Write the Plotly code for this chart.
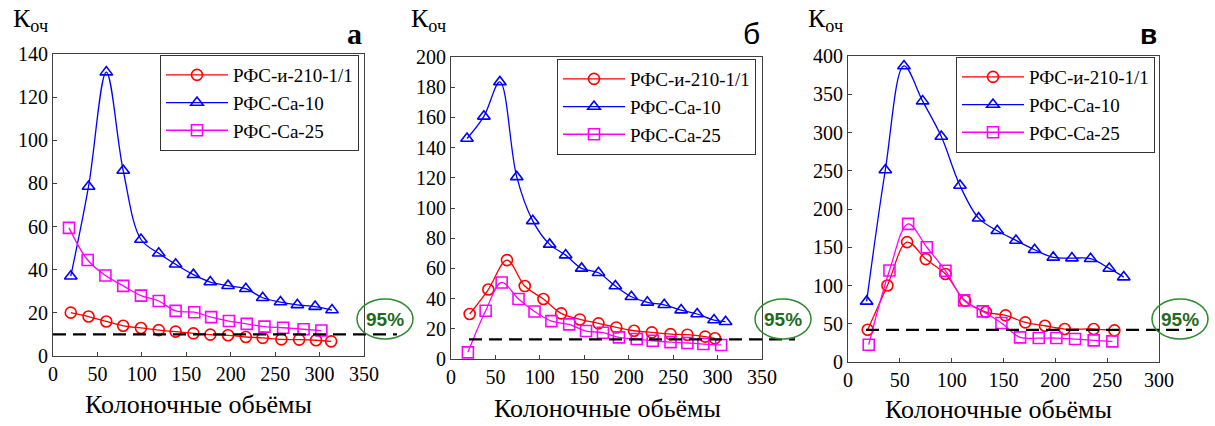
import plotly.graph_objects as go

W, H = 1215, 426

# ---- data ----
series_names = ["РФС-и-210-1/1", "РФС-Са-10", "РФС-Са-25"]
panel_letters = ["а", "б", "в"]
x_title = "Колоночные обьёмы"
threshold_label = "95%"
thresholds = [10, 13, 42]

xa_red = [20, 40, 60, 79, 99, 119, 138, 158, 177, 197, 217, 236, 257, 277, 296, 313]
ya_red = [20.1, 18.3, 16.0, 14.0, 13.0, 12.0, 11.3, 10.5, 9.9, 9.6, 8.8, 8.4, 7.7, 7.6, 7.3, 6.8]
xa_blue = [20, 40, 60, 79, 99, 119, 138, 158, 177, 197, 217, 236, 256, 275, 295, 314]
ya_blue = [37, 78.6, 131.6, 86, 54, 47.6, 42.5, 37.7, 34.3, 32.6, 31.2, 27, 25, 23.7, 22.9, 21.3]
xa_mag = [18, 39, 59, 79, 99, 119, 138, 159, 178, 198, 218, 238, 259, 282, 302]
ya_mag = [59.4, 44.5, 37.3, 32.5, 28, 25.5, 20.9, 20.3, 18, 16.2, 14.9, 13.6, 13.1, 12.4, 11.8]

xb_red = [21, 42, 63, 83, 104, 124, 145, 166, 186, 206, 226, 247, 266, 286, 297]
yb_red = [29.8, 46, 65.5, 48.3, 39.7, 30.2, 26.2, 23.6, 20.9, 18.7, 17.6, 16.5, 16.1, 14.8, 13.7]
xb_blue = [18, 37, 55, 74, 92, 111, 129, 147, 166, 185, 203, 221, 240, 259, 277, 296, 309]
yb_blue = [146, 160.7, 183.5, 120.6, 91.5, 75.9, 68.8, 60, 57.1, 48.3, 41.2, 37.5, 35.9, 32.4, 29.8, 25.8, 24.7]
xb_mag = [19, 39, 57, 76, 94, 113, 133, 152, 171, 189, 209, 227, 247, 266, 284, 304]
yb_mag = [4.4, 32, 50.7, 39.7, 31.5, 25.1, 22.9, 18.5, 17.4, 14.3, 13.2, 12.1, 11.2, 10.6, 9.9, 9.3]

xc_red = [19, 38, 57, 75, 94, 113, 133, 152, 171, 190, 209, 237, 257]
yc_red = [42.2, 100, 156.7, 134.5, 115, 80, 65.3, 61, 51.8, 47.4, 43.1, 43.1, 41.4]
xc_blue = [18, 36, 54, 72, 90, 108, 126, 144, 162, 180, 198, 216, 234, 252, 266]
yc_blue = [79.2, 251, 387, 341, 294.7, 230.7, 188, 171.5, 158.9, 146.7, 136.7, 135.8, 135, 122.3, 111]
xc_mag = [20, 40, 58, 76, 94, 112, 130, 148, 166, 184, 201, 219, 237, 255]
yc_mag = [22.6, 119.7, 180.6, 150, 119.3, 80.5, 66.2, 51, 32.2, 31.3, 31.3, 30, 28.3, 27]

x_ranges = [[0, 350], [0, 350], [0, 300]]
y_ranges = [[0, 140], [0, 200], [0, 400]]
y_dticks = [20, 20, 50]

panels = [
    [(xa_red, ya_red), (xa_blue, ya_blue), (xa_mag, ya_mag)],
    [(xb_red, yb_red), (xb_blue, yb_blue), (xb_mag, yb_mag)],
    [(xc_red, yc_red), (xc_blue, yc_blue), (xc_mag, yc_mag)],
]

# ---- styling ----
colors = ["#ff0000", "#0000ff", "#ff00ff"]
symbols = ["circle-open", "triangle-up-open", "square-open"]
serif = "Liberation Serif"
sans = "Liberation Sans"

# plot-area boxes in pixels: (left, right, top, bottom)
boxes = [(53, 364, 54, 356), (451, 762, 57, 359), (848, 1159, 56, 362)]
legend_pos = [(160, 55), (557, 59), (956, 57)]
title_pos = [(198, 404), (607, 408), (998, 409)]


def px(x):
    return x / W


def py(y):
    return 1 - y / H


fig = go.Figure()
layout = dict(
    template="none",
    width=W, height=H, margin=dict(l=0, r=0, t=0, b=0, pad=0, autoexpand=False),
    paper_bgcolor="white", plot_bgcolor="white", showlegend=True,
    font=dict(family=serif, color="black"),
    annotations=[], shapes=[],
)

for i, series in enumerate(panels):
    sfx = "" if i == 0 else str(i + 1)
    xa, ya = "x" + sfx, "y" + sfx
    lg = "legend" + sfx
    for j, (xs, ys) in enumerate(series):
        fig.add_trace(go.Scatter(
            x=xs, y=ys, name=series_names[j], mode="lines+markers",
            xaxis=xa, yaxis=ya, legend=lg,
            line=dict(color=colors[j], width=1.3, shape="spline", smoothing=1.0),
            marker=dict(symbol=symbols[j], size=11, color=colors[j],
                        line=dict(width=1.6, color=colors[j])),
        ))
    l, r, t, b = boxes[i]
    axis_common = dict(
        showgrid=False, zeroline=False, showline=True, mirror=True,
        automargin=False,
        linecolor="#404040", linewidth=1, ticks="inside", ticklen=4,
        tickcolor="#404040", tickfont=dict(family=serif, size=20, color="black"),
    )
    layout["xaxis" + sfx] = dict(
        domain=[px(l), px(r)], anchor=ya, range=x_ranges[i], dtick=50,
        **axis_common,
    )
    layout["yaxis" + sfx] = dict(
        domain=[py(b), py(t)], anchor=xa, range=y_ranges[i], dtick=y_dticks[i],
        **axis_common,
    )
    lx, ly = legend_pos[i]
    layout[lg] = dict(
        x=px(lx), y=py(ly), xanchor="left", yanchor="top",
        bgcolor="white", bordercolor="#333333", borderwidth=1,
        font=dict(family=serif, size=19, color="black"),
        itemwidth=62, tracegroupgap=0,
    )

    # 95% threshold line
    x0 = l if i == 0 else l + 18
    layout["shapes"].append(dict(
        type="line", xref="paper", yref=ya, x0=px(x0), x1=px(r + 33),
        y0=thresholds[i], y1=thresholds[i],
        line=dict(color="black", width=2.2, dash="13px,7px"),
    ))
    # green ellipse with label
    cx, cy = r + 21, 319
    layout["shapes"].append(dict(
        type="circle", xref="paper", yref="paper",
        x0=px(cx - 28), x1=px(cx + 28), y0=py(cy + 20), y1=py(cy - 20),
        line=dict(color="#2e8b2e", width=1.5),
    ))
    layout["annotations"].append(dict(
        text="<b>%s</b>" % threshold_label, xref="paper", yref="paper",
        x=px(cx), y=py(cy), showarrow=False, xanchor="center", yanchor="middle",
        font=dict(family=sans, size=19, color="#1e6b1e"),
    ))
    # y-axis label
    layout["annotations"].append(dict(
        text="К<sub>оч</sub>", xref="paper", yref="paper",
        x=px(l - 42), y=py(2), showarrow=False, xanchor="left", yanchor="top",
        font=dict(family=serif, size=26, color="black"),
    ))
    # panel letter
    if i == 0:
        letter = dict(text="<b>а</b>", font=dict(family=serif, size=30, color="black"))
    elif i == 1:
        letter = dict(text="б", font=dict(family=sans, size=30, color="black"))
    else:
        letter = dict(text="<b>в</b>", font=dict(family=sans, size=28, color="black"))
    layout["annotations"].append(dict(
        xref="paper", yref="paper", x=px(r), y=py(52),
        showarrow=False, xanchor="right", yanchor="bottom", **letter,
    ))
    # x-axis title
    tx, ty = title_pos[i]
    layout["annotations"].append(dict(
        text=x_title, xref="paper", yref="paper",
        x=px(tx), y=py(ty), showarrow=False,
        xanchor="center", yanchor="middle",
        font=dict(family=serif, size=26, color="black"),
    ))

fig.update_layout(**layout)
fig.write_html("out.html")
